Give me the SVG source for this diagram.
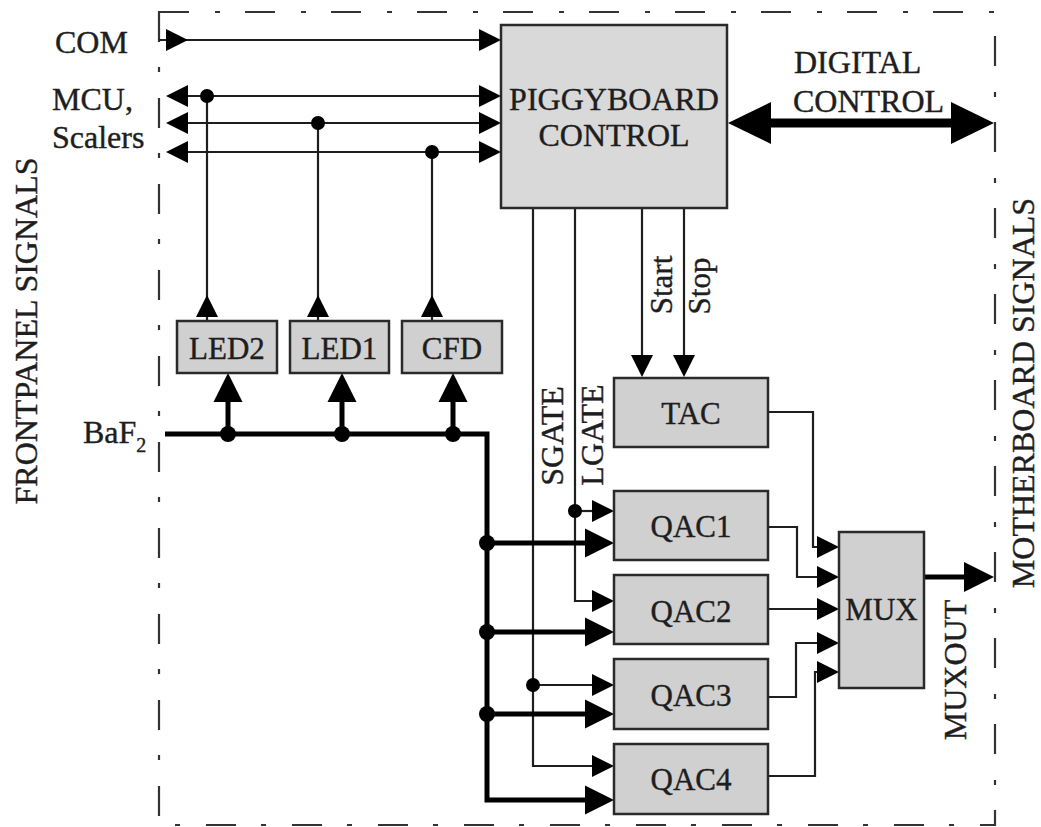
<svg xmlns="http://www.w3.org/2000/svg" xmlns:xlink="http://www.w3.org/1999/xlink" width="1041" height="827" viewBox="0 0 1041 827">
<style>
text{font-family:"Liberation Serif","Times New Roman",serif;fill:#1e1e1e;stroke:#1e1e1e;stroke-width:0.4;font-size:32px}
.box{fill:#d0d0d0;stroke:#2a2a2a;stroke-width:2.5}
.pig{fill:#d9d9d9}
.bl{font-size:31px}
.thin{fill:none;stroke:#1e1e1e;stroke-width:2.2}
.thick{fill:none;stroke:#000;stroke-width:5}
.dc{fill:none;stroke:#000;stroke-width:9}
.head{fill:#000}
.dot{fill:#000}
.border{fill:none;stroke:#333;stroke-width:2.2;stroke-dasharray:30 26 5 25}
</style>
<defs>
<path id="ah" d="M0,0 L-22,-11 L-22,11 Z"/>
<path id="ahT" d="M0,0 L-29,-14.5 L-29,14.5 Z"/>
<path id="ahB" d="M0,0 L-43,-21 L-43,21 Z"/>
<path id="ahM" d="M0,0 L-30,-15 L-30,15 Z"/>
</defs>
<rect width="1041" height="827" fill="#fff"/>
<rect class="border" x="159" y="12" width="836" height="813"/>

<g id="labels">
<text x="55" y="53">COM</text>
<text x="52" y="110">MCU,</text>
<text x="52" y="148">Scalers</text>
<text x="794" y="73">DIGITAL</text>
<text x="793" y="112">CONTROL</text>
<text x="83" y="443">BaF<tspan font-size="20" dy="9">2</tspan></text>
<text transform="translate(37,331) rotate(-90)" text-anchor="middle">FRONTPANEL SIGNALS</text>
<text transform="translate(1034,393) rotate(-90)" text-anchor="middle">MOTHERBOARD SIGNALS</text>
<text transform="translate(966,670) rotate(-90)" text-anchor="middle">MUXOUT</text>
<text transform="translate(563,436) rotate(-90)" text-anchor="middle">SGATE</text>
<text transform="translate(603,435) rotate(-90)" text-anchor="middle">LGATE</text>
<text class="bl" transform="translate(672,285) rotate(-90)" text-anchor="middle">Start</text>
<text class="bl" transform="translate(710,286) rotate(-90)" text-anchor="middle">Stop</text>
</g>

<g id="connectors">
<path class="thin" d="M159,40 H490"/>
<path class="thin" d="M170,96 H490"/>
<path class="thin" d="M170,123 H490"/>
<path class="thin" d="M170,152 H490"/>
<path class="thin" d="M207,96 V321"/>
<path class="thin" d="M318,123 V321"/>
<path class="thin" d="M432,152 V321"/>
<path class="thin" d="M533,208 V766 H604"/>
<path class="thin" d="M533,685 H604"/>
<path class="thin" d="M575,208 V601 H604"/>
<path class="thin" d="M575,511 H604"/>
<path class="thin" d="M642,208 V367"/>
<path class="thin" d="M684,208 V367"/>
<path class="thin" d="M768,412 H813 V547 H829"/>
<path class="thin" d="M768,527 H797 V577 H829"/>
<path class="thin" d="M768,609 H829"/>
<path class="thin" d="M768,697 H796 V643 H829"/>
<path class="thin" d="M768,776 H815 V672 H829"/>
<path class="thick" d="M165,434 H487 V800 H590"/>
<path class="thick" d="M487,543 H590 M487,632 H590 M487,714 H590"/>
<path class="thick" d="M228,434 V400 M342,434 V400 M453,434 V400"/>
<path class="thick" d="M924,577 H967"/>
<path class="dc" d="M768,123 H954"/>
<g class="head">
<use xlink:href="#ah" transform="translate(188,40)"/>
<use xlink:href="#ah" transform="translate(501,40)"/>
<use xlink:href="#ah" transform="translate(501,96)"/>
<use xlink:href="#ah" transform="translate(501,123)"/>
<use xlink:href="#ah" transform="translate(501,152)"/>
<use xlink:href="#ah" transform="translate(166,96) rotate(180)"/>
<use xlink:href="#ah" transform="translate(166,123) rotate(180)"/>
<use xlink:href="#ah" transform="translate(166,152) rotate(180)"/>
<use xlink:href="#ah" transform="translate(207,295) rotate(-90)"/>
<use xlink:href="#ah" transform="translate(318,295) rotate(-90)"/>
<use xlink:href="#ah" transform="translate(432,295) rotate(-90)"/>
<use xlink:href="#ah" transform="translate(642,377) rotate(90)"/>
<use xlink:href="#ah" transform="translate(684,377) rotate(90)"/>
<use xlink:href="#ah" transform="translate(614,511)"/>
<use xlink:href="#ah" transform="translate(614,601)"/>
<use xlink:href="#ah" transform="translate(614,685)"/>
<use xlink:href="#ah" transform="translate(614,766)"/>
<use xlink:href="#ah" transform="translate(839,547)"/>
<use xlink:href="#ah" transform="translate(839,577)"/>
<use xlink:href="#ah" transform="translate(839,609)"/>
<use xlink:href="#ah" transform="translate(839,643)"/>
<use xlink:href="#ah" transform="translate(839,672)"/>
<use xlink:href="#ahT" transform="translate(228,373) rotate(-90)"/>
<use xlink:href="#ahT" transform="translate(342,373) rotate(-90)"/>
<use xlink:href="#ahT" transform="translate(453,373) rotate(-90)"/>
<use xlink:href="#ahT" transform="translate(614,543)"/>
<use xlink:href="#ahT" transform="translate(614,632)"/>
<use xlink:href="#ahT" transform="translate(614,714)"/>
<use xlink:href="#ahT" transform="translate(614,800)"/>
<use xlink:href="#ahM" transform="translate(994,577)"/>
<use xlink:href="#ahB" transform="translate(728,123) rotate(180)"/>
<use xlink:href="#ahB" transform="translate(994,123)"/>
</g>
<g class="dot">
<circle cx="207" cy="96" r="7"/>
<circle cx="318" cy="123" r="7"/>
<circle cx="432" cy="152" r="7"/>
<circle cx="575" cy="511" r="7"/>
<circle cx="533" cy="685" r="7"/>
<circle cx="228" cy="434" r="8"/>
<circle cx="342" cy="434" r="8"/>
<circle cx="453" cy="434" r="8"/>
<circle cx="487" cy="543" r="8"/>
<circle cx="487" cy="632" r="8"/>
<circle cx="487" cy="714" r="8"/>
</g>
</g>

<g id="piggyboard">
<rect class="box pig" x="501" y="25" width="226" height="183"/>
<text x="614" y="110" text-anchor="middle" font-size="30">PIGGYBOARD</text>
<text x="614" y="146" text-anchor="middle" font-size="30">CONTROL</text>
</g>
<g id="led2"><rect class="box" x="177" y="321" width="100" height="52"/><text class="bl" x="227" y="359" text-anchor="middle">LED2</text></g>
<g id="led1"><rect class="box" x="290" y="321" width="99" height="52"/><text class="bl" x="339.5" y="359" text-anchor="middle">LED1</text></g>
<g id="cfd"><rect class="box" x="402" y="321" width="100" height="52"/><text class="bl" x="452" y="359" text-anchor="middle">CFD</text></g>
<g id="tac"><rect class="box" x="614" y="378" width="154" height="69"/><text class="bl" x="691" y="424" text-anchor="middle">TAC</text></g>
<g id="qac1"><rect class="box" x="614" y="491" width="154" height="69"/><text class="bl" x="691" y="537" text-anchor="middle">QAC1</text></g>
<g id="qac2"><rect class="box" x="614" y="575" width="154" height="69"/><text class="bl" x="691" y="622" text-anchor="middle">QAC2</text></g>
<g id="qac3"><rect class="box" x="614" y="659" width="154" height="70"/><text class="bl" x="691" y="706" text-anchor="middle">QAC3</text></g>
<g id="qac4"><rect class="box" x="614" y="744" width="154" height="70"/><text class="bl" x="691" y="790" text-anchor="middle">QAC4</text></g>
<g id="mux"><rect class="box" x="839" y="532" width="85" height="156"/><text class="bl" x="881.5" y="620" text-anchor="middle">MUX</text></g>
</svg>
